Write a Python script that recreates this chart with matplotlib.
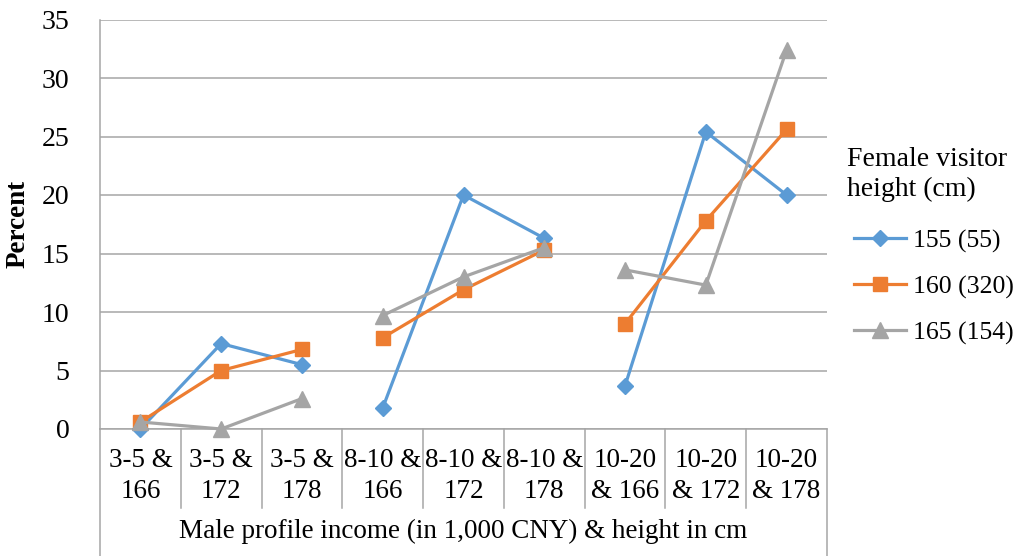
import matplotlib
matplotlib.use("Agg")
import matplotlib.pyplot as plt
import numpy as np

categories = ["3-5 &\n166", "3-5 &\n172", "3-5 &\n178",
              "8-10 &\n166", "8-10 &\n172", "8-10 &\n178",
              "10-20\n& 166", "10-20\n& 172", "10-20\n& 178"]
series_names = ["155 (55)", "160 (320)", "165 (154)"]
v155 = [0.0, 7.3, 5.5, 1.8, 20.0, 16.3, 3.7, 25.4, 20.0]
v160 = [0.6, 5.0, 6.8, 7.8, 11.9, 15.3, 9.0, 17.8, 25.6]
v165 = [0.6, 0.0, 2.6, 9.7, 13.0, 15.5, 13.6, 12.3, 32.4]
y_ticks = [0, 5, 10, 15, 20, 25, 30, 35]
x_title = "Male profile income (in 1,000 CNY) & height in cm"
y_title = "Percent"
legend_title = "Female visitor\nheight (cm)"

colors = ["#5B9BD5", "#ED7D31", "#A5A5A5"]
markers = ["D", "s", "^"]
msizes = [8.5, 10, 11]

plt.rcParams['font.family'] = ['Liberation Serif', 'DejaVu Serif']
W, H = 1023, 556
fig = plt.figure(figsize=(W / 100, H / 100), dpi=100)
L, R, T, B = 100, 827, 19.5, 429
ax = fig.add_axes([L / W, 1 - B / H, (R - L) / W, (B - T) / H])

x = np.arange(len(categories)) + 0.5
handles = []
for vals, c, m, ms, name in zip([v155, v160, v165], colors, markers, msizes, series_names):
    for g in range(3):
        sl = slice(3 * g, 3 * g + 3)
        h, = ax.plot(x[sl], vals[sl], color=c, lw=2.3, marker=m, ms=ms,
                     clip_on=False, zorder=3, label=name if g == 0 else None)
        if g == 0:
            handles.append(h)

ax.set_xlim(0, 9)
ax.set_ylim(0, 35)
ax.set_yticks(y_ticks)
ax.yaxis.grid(True, color="#A6A6A6", lw=1.1)
ax.set_axisbelow(True)
for s in ["top", "right"]:
    ax.spines[s].set_visible(False)
ax.spines["left"].set_color("#A6A6A6")
ax.spines["bottom"].set_color("#A6A6A6")
ax.spines["left"].set_linewidth(1.1)
ax.spines["bottom"].set_linewidth(1.1)
ax.tick_params(axis="y", length=0, labelsize=20, pad=22)
ax.set_xticks(x)
ax.set_xticklabels(categories, fontsize=19.5, linespacing=1.3)
ax.tick_params(axis="x", length=0, pad=14)

# category axis box lines
trans = ax.get_xaxis_transform()
hpx = B - T
y_row = -(508 - B) / hpx
y_bot = -(H - B) / hpx
for i in range(1, 9):
    ax.plot([i, i], [0, y_row], transform=trans, color="#A6A6A6", lw=1.1, clip_on=False)
for i in [0, 9]:
    ax.plot([i, i], [0, y_bot], transform=trans, color="#A6A6A6", lw=1.1, clip_on=False)

ax.text(4.5, -(531 - B) / hpx, x_title, transform=trans, ha="center", va="center", fontsize=19.5)
ax.set_ylabel(y_title, fontsize=19.5, fontweight="bold", labelpad=8)

fig.text(847 / W, 1 - 147 / H, legend_title, ha="left", va="top", fontsize=20, linespacing=1.25)
leg = fig.legend(handles=handles, loc="upper left",
                 bbox_to_anchor=(831 / W, 1 - 206 / H), frameon=False,
                 fontsize=18.5, handlelength=2.0,
                 labelspacing=0.88, handletextpad=0.3)

fig.savefig("out.png", dpi=100)
